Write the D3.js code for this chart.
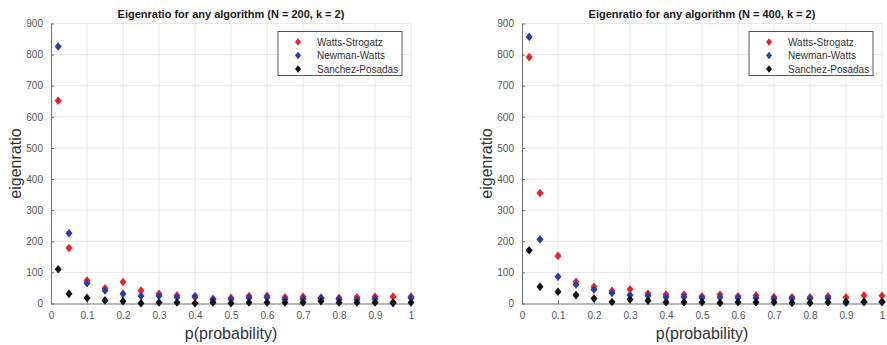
<!DOCTYPE html>
<html>
<head>
<meta charset="utf-8">
<script src="https://cdn.jsdelivr.net/npm/d3@7"></script>
<style>
    body { margin: 0; background: #fff; }
    svg { display: block; font-family: "Liberation Sans", Arial, sans-serif; }
</style>
</head>
<body>
<svg id="chart" width="887" height="345"></svg>
<script>
// probability values on the x axis (same for both panels)
const pValues = [0.02, 0.05, 0.1, 0.15, 0.2, 0.25, 0.3, 0.35, 0.4, 0.45, 0.5,
    0.55, 0.6, 0.65, 0.7, 0.75, 0.8, 0.85, 0.9, 0.95, 1.0];

const seriesNames = ['Watts-Strogatz', 'Newman-Watts', 'Sanchez-Posadas'];
const seriesColors = ['#e8232b', '#2b3ca6', '#111111'];

// N = 200
const ws200 = [652, 178, 74, 49, 69, 42, 31, 26, 20, 15, 18, 24, 25, 20, 22, 18, 18, 20, 22, 22, 22];
const nw200 = [826, 226, 65, 42, 31, 24, 24, 20, 24, 13, 14, 18, 19, 14, 15, 18, 14, 13, 15, 1, 18];
const sp200 = [110, 31, 18, 10, 7, 1, 3, 3, 1, 3, 1, 3, 3, 3, 3, 7, 3, 3, 3, 3, 3];

// N = 400
const ws400 = [792, 355, 153, 70, 54, 41, 46, 32, 29, 29, 23, 29, 23, 26, 21, 20, 20, 23, 20, 26, 25];
const nw400 = [857, 206, 86, 61, 45, 34, 27, 25, 21, 21, 18, 20, 18, 18, 15, 15, 15, 17, 2, 4, 4];
const sp400 = [171, 54, 38, 27, 16, 5, 13, 9, 4, 4, 4, 2, 4, 4, 4, 2, 2, 4, 6, 6, 6];

const xTicks = d3.range(0, 1.0001, 0.1).map(v => +v.toFixed(1));
const yTicks = d3.range(0, 901, 100);

const panels = [
    { title: 'Eigenratio for any algorithm (N = 200, k = 2)', left: 51, series: [ws200, nw200, sp200] },
    { title: 'Eigenratio for any algorithm (N = 400, k = 2)', left: 522, series: [ws400, nw400, sp400] }
];

const plotWidth = 360;
const plotTop = 23.5;
const plotBottom = 303.5;

const svg = d3.select('#chart');

// diamond marker path centred at 0,0
function diamond(w, h) {
    return 'M0,' + (-h) + 'L' + w + ',0L0,' + h + 'L' + (-w) + ',0Z';
}

panels.forEach(panel => {
    let x = d3.scaleLinear().domain([0, 1]).range([panel.left, panel.left + plotWidth]);
    let y = d3.scaleLinear().domain([0, 900]).range([plotBottom, plotTop]);

    let g = svg.append('g').attr('class', 'panel');

    // grid
    g.append('g').selectAll('line').data(xTicks.slice(1)).enter().append('line')
        .attr('x1', d => x(d)).attr('x2', d => x(d))
        .attr('y1', plotTop).attr('y2', plotBottom)
        .attr('stroke', '#e6e6e6').attr('stroke-width', 1);
    g.append('g').selectAll('line').data(yTicks.slice(1)).enter().append('line')
        .attr('x1', panel.left).attr('x2', panel.left + plotWidth)
        .attr('y1', d => y(d)).attr('y2', d => y(d))
        .attr('stroke', '#e6e6e6').attr('stroke-width', 1);

    // axes
    let xAxis = d3.axisBottom(x).tickValues(xTicks).tickSizeInner(-3).tickSizeOuter(0)
        .tickPadding(8).tickFormat(d => d === 0 || d === 1 ? d3.format('d')(d) : d3.format('.1f')(d));
    let yAxis = d3.axisLeft(y).tickValues(yTicks).tickSizeInner(-3).tickSizeOuter(0)
        .tickPadding(8);

    let gx = g.append('g').attr('transform', 'translate(0,' + plotBottom + ')').call(xAxis);
    let gy = g.append('g').attr('transform', 'translate(' + panel.left + ',0)').call(yAxis);
    [gx, gy].forEach(a => {
        a.select('.domain').attr('stroke', '#707070');
        a.selectAll('.tick line').attr('stroke', '#707070');
        a.selectAll('.tick text').attr('fill', '#555').style('font-size', '10px')
            .style('font-family', '"Liberation Sans", Arial, sans-serif');
    });
    gx.selectAll('.tick text').attr('dy', '0.71em').attr('y', 8);

    // points: red, then blue, then black on top
    panel.series.forEach((vals, si) => {
        g.append('g').selectAll('path').data(vals).enter().append('path')
            .attr('d', diamond(3.5, 4.3))
            .attr('transform', (d, i) => 'translate(' + x(pValues[i]) + ',' + y(d) + ')')
            .attr('fill', seriesColors[si]);
    });

    // title
    g.append('text')
        .attr('x', x(0.5)).attr('y', 18)
        .attr('text-anchor', 'middle')
        .style('font-size', '11px').style('font-weight', 'bold')
        .attr('fill', '#1a1a1a')
        .text(panel.title);

    // axis labels
    g.append('text')
        .attr('x', x(0.5)).attr('y', 339)
        .attr('text-anchor', 'middle')
        .style('font-size', '16px').attr('fill', '#333')
        .text('p(probability)');
    g.append('text')
        .attr('transform', 'translate(' + (panel.left - 30) + ',' + ((plotTop + plotBottom) / 2) + ') rotate(-90)')
        .attr('text-anchor', 'middle')
        .style('font-size', '16px').attr('fill', '#333')
        .text('eigenratio');

    // legend
    let lx = panel.left + plotWidth - 133;
    let legend = g.append('g').attr('transform', 'translate(' + lx + ',31.5)');
    legend.append('rect')
        .attr('width', 124).attr('height', 44)
        .attr('fill', '#fff').attr('stroke', '#555').attr('stroke-width', 1);
    seriesNames.forEach((name, si) => {
        let ly = 10.5 + si * 13.5;
        legend.append('path')
            .attr('d', diamond(3, 3.7))
            .attr('transform', 'translate(20,' + ly + ')')
            .attr('fill', seriesColors[si]);
        legend.append('text')
            .attr('x', 39).attr('y', ly + 3.5)
            .style('font-size', '10px').attr('fill', '#333')
            .text(name);
    });
});
</script>
</body>
</html>
